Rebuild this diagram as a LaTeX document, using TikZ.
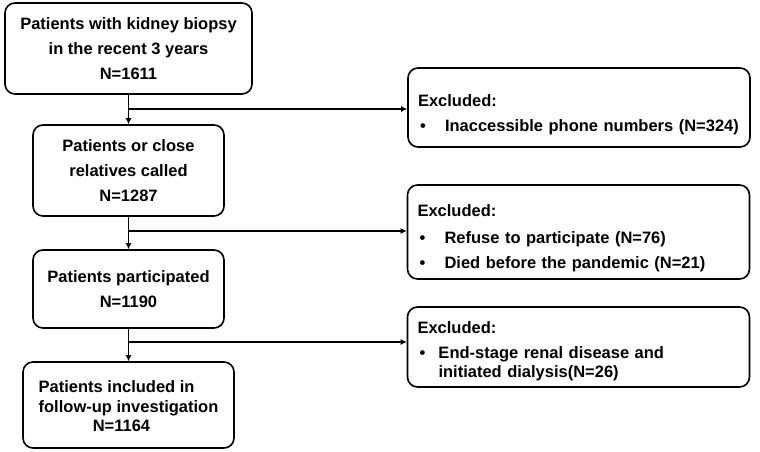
\documentclass[tikz,border=0pt]{standalone}
\usepackage{fontspec}
\setmainfont{Liberation Sans}
\usetikzlibrary{arrows.meta,positioning}
\newcommand{\bul}[1][27pt]{\makebox[#1][l]{\hspace{2pt}\textbullet}}

\begin{document}
\begin{tikzpicture}[
  x=1pt, y=-1pt,
  every node/.style={draw, rounded corners=10pt, line width=1.6pt,
    font=\bfseries\fontsize{16.5}{25}\selectfont},
  mainbox/.style={align=center, minimum width=191pt},
  exclbox/.style={align=left, text width=322pt, inner xsep=10pt, minimum width=342pt},
  arr/.style={line width=1.6pt, -{Latex[length=6pt,width=6pt]}}
]
\useasboundingbox (0,0) rectangle (760,452);

\node[mainbox, minimum width=247pt, minimum height=91pt] (n1) at (128.5,48.5)
  {Patients with kidney biopsy\\in the recent 3 years\\N=1611};
\node[mainbox, minimum height=91pt] (n2) at (128.5,170.5)
  {Patients or close\\relatives called\\N=1287};
\node[mainbox, minimum height=78pt] (n3) at (128.5,289)
  {Patients participated\\N=1190};
\node[mainbox, minimum width=211pt, minimum height=86pt,
  font=\bfseries\fontsize{16.5}{20}\selectfont] (n4) at (128.5,405)
  {\begin{tabular}{@{}l@{}}Patients included in\\follow-up investigation\end{tabular}\\N=1164\hspace*{14pt}};

\node[exclbox, minimum height=79pt] (e1) at (579,107.5)
  {\rule{0pt}{26pt}Excluded:\\\bul Inaccessible phone numbers (N=324)};
\node[exclbox, minimum height=94pt] (e2) at (578.5,232)
  {\rule{0pt}{24pt}Excluded:\\[2pt]\bul Refuse to participate (N=76)\\\bul Died before the pandemic (N=21)};
\node[exclbox, minimum height=80pt] (e3) at (578.5,347)
  {\rule{0pt}{20pt}Excluded:\\\bul[21pt]End-stage renal disease and\\[-6pt]\hspace*{21pt}initiated dialysis(N=26)};

\coordinate (j1) at (128.5,109);
\coordinate (j2) at (128.5,231);
\coordinate (j3) at (128.5,342);

\draw[arr] (n1) -- (n2);
\draw[arr] (n2) -- (n3);
\draw[arr] (n3) -- (n4);
\draw[arr] (j1) -- (j1 -| e1.west);
\draw[arr] (j2) -- (j2 -| e2.west);
\draw[arr] (j3) -- (j3 -| e3.west);

\end{tikzpicture}
\end{document}
